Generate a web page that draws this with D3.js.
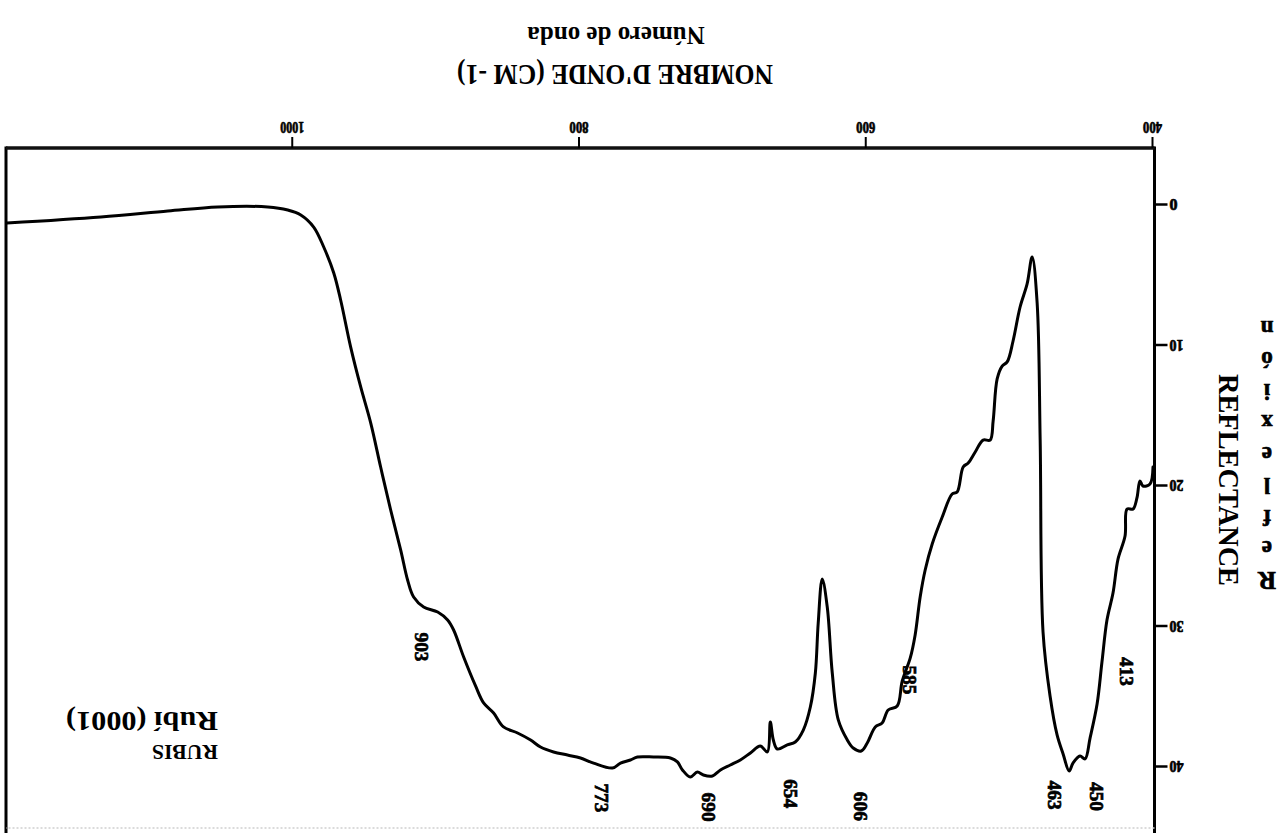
<!DOCTYPE html>
<html>
<head>
<meta charset="utf-8">
<script src="https://cdn.jsdelivr.net/npm/d3@7"></script>
<style>
  html, body { margin: 0; padding: 0; background: #fff; }
  svg { display: block; }
  text { font-family: "Liberation Serif", "Times New Roman", serif; font-weight: bold; fill: #000; }
  .heavy { stroke: #000; stroke-width: 0.7px; }
</style>
</head>
<body>
<svg id="chart" width="1286" height="833"></svg>
<script>
// Infrared reflectance spectrum of ruby, (0001) face
const wavenumber = [1199.3,1133.8,1087.1,1052.3,1017.4,1003.5,994.4,985.4,978.4,971.4,
  966.6,959.6,952.6,945.6,938.7,931.7,924.7,919.9,915.7,908.7,
  898.9,892.0,887.8,880.8,872.5,866.9,859.9,853.0,843.2,834.1,
  827.2,818.1,808.4,799.3,790.2,777.0,771.4,764.5,759.6,748.4,
  736.6,731.7,728.2,722.7,717.8,713.6,707.3,701.7,694.8,687.8,
  680.8,673.9,669.0,666.9,664.8,662.0,655.1,649.5,643.9,639.0,
  635.5,633.5,630.7,627.2,623.7,619.5,613.2,609.1,603.5,599.3,
  593.7,588.9,584.7,578.4,574.9,569.3,565.9,562.4,558.9,554.0,
  547.0,540.1,536.6,532.4,528.9,524.0,518.5,513.6,511.5,508.7,
  505.2,501.7,497.6,492.7,487.8,484.3,480.8,478.7,476.7,471.8,
  466.9,462.7,458.5,455.8,450.9,447.4,443.9,439.0,435.6,432.1,
  427.9,424.4,419.5,418.1,413.9,411.2,409.1,407.0,402.1,400.0];

const reflectance = [1.28,0.85,0.43,0.14,0.14,0.36,0.71,1.57,2.99,4.84,
  6.76,10.11,12.95,15.52,18.65,21.71,24.56,26.69,27.90,28.61,
  28.97,29.54,30.25,32.17,34.23,35.44,36.16,37.15,37.58,38.08,
  38.58,38.93,39.15,39.36,39.72,40.07,39.72,39.50,39.29,39.29,
  39.36,39.64,40.21,40.71,40.36,40.57,40.64,40.21,39.86,39.50,
  39.00,38.51,38.93,36.80,38.08,38.72,38.43,38.22,37.37,35.73,
  33.31,29.75,26.62,28.61,33.31,36.65,38.08,38.65,38.86,38.29,
  37.15,36.87,35.94,35.66,33.88,32.24,30.60,27.90,25.98,24.13,
  22.21,20.57,20.43,18.65,18.36,17.58,16.73,16.73,15.37,12.38,
  11.46,11.17,9.68,7.26,5.62,3.70,6.98,16.73,30.39,34.95,
  37.72,39.07,40.28,39.72,39.22,39.43,37.94,35.52,32.53,29.54,
  27.62,25.20,23.56,21.64,21.64,20.85,19.64,20.00,19.86,18.65];

const xTicks = [400, 600, 800, 1000];
const yTicks = [0, 10, 20, 30, 40];

// band annotations and where they sit
const peakLabels = ["903", "773", "690", "654", "606", "585", "463", "450", "413"];
const peakLabelWn = [910.1, 784.7, 710.1, 652.9, 604.2, 570.0, 468.3, 439.0, 418.1];
const peakLabelR  = [31.46, 42.2, 42.85, 41.9, 42.8, 33.8, 42.0, 42.1, 33.2];

const xTitle = ["NOMBRE D'ONDE (CM -1)", "Número de onda"];
const yTitle = "REFLECTANCE";
const yTitleEs = ["R", "e", "f", "l", "e", "x", "i", "ó", "n"];
const sampleName = ["RUBIS", "Rubí (0001)"];

const W = 1286, H = 833;
const svg = d3.select("#chart");

// the sheet is mounted upside down: lay it out normally, then turn it half a turn
const g = svg.append("g").attr("transform", `rotate(180 ${W / 2} ${H / 2})`);

const x = d3.scaleLinear().domain([400, 1200]).range([133, 1280]);
const y = d3.scaleLinear().domain([0, 40]).range([628, 66]);

const frameLeft = 131.5, frameRight = 1280, frameBottom = 685, frameTop = 5;

// frame
g.append("line").attr("x1", frameLeft).attr("x2", frameLeft).attr("y1", -2).attr("y2", frameBottom + 1.5)
  .attr("stroke", "#000").attr("stroke-width", 3);
g.append("line").attr("x1", frameRight).attr("x2", frameRight).attr("y1", -2).attr("y2", frameBottom + 1.5)
  .attr("stroke", "#000").attr("stroke-width", 3);
g.append("line").attr("x1", frameLeft).attr("x2", frameRight).attr("y1", frameBottom).attr("y2", frameBottom)
  .attr("stroke", "#111").attr("stroke-width", 3.5);
g.append("line").attr("x1", frameLeft).attr("x2", frameRight).attr("y1", frameTop).attr("y2", frameTop)
  .attr("stroke", "#cfcfcf").attr("stroke-width", 1.5).attr("stroke-dasharray", "2,2");

// wavenumber axis
const xAxis = g.append("g").attr("transform", `translate(0,${frameBottom})`)
  .call(d3.axisBottom(x).tickValues(xTicks).tickSize(11).tickPadding(4).tickFormat(d3.format("d")));
xAxis.select(".domain").remove();
xAxis.selectAll(".tick line").attr("stroke", "#000").attr("stroke-width", 2);
xAxis.selectAll(".tick text").attr("font-size", 16).attr("class", "heavy")
  .attr("textLength", d => d >= 1000 ? 24 : 19).attr("lengthAdjust", "spacingAndGlyphs")
  .attr("font-family", "Liberation Serif, serif").attr("font-weight", "bold");

// reflectance axis
const yAxis = g.append("g").attr("transform", `translate(${frameLeft},0)`)
  .call(d3.axisLeft(y).tickValues(yTicks).tickSize(13).tickPadding(2).tickFormat(d3.format("d")));
yAxis.select(".domain").remove();
yAxis.selectAll(".tick line").attr("stroke", "#000").attr("stroke-width", 2.5);
yAxis.selectAll(".tick text").attr("font-size", 16).attr("class", "heavy")
  .attr("textLength", d => d >= 10 ? 14 : 8).attr("lengthAdjust", "spacingAndGlyphs")
  .attr("font-family", "Liberation Serif, serif").attr("font-weight", "bold");

// spectrum
const pts = wavenumber.map((w, i) => [w, reflectance[i]]);
g.append("path")
  .datum(pts)
  .attr("fill", "none")
  .attr("stroke", "#000")
  .attr("stroke-width", 3)
  .attr("stroke-linejoin", "round")
  .attr("stroke-linecap", "round")
  .attr("d", d3.line().curve(d3.curveCatmullRom.alpha(0.5)).x(d => x(d[0])).y(d => y(d[1])));

// band labels, set vertically
peakLabels.forEach((t, i) => {
  g.append("text")
    .attr("class", "heavy")
    .attr("transform", `translate(${x(peakLabelWn[i])},${y(peakLabelR[i])}) rotate(-90)`)
    .attr("text-anchor", "middle")
    .attr("dy", "0.35em")
    .attr("font-size", 19)
    .attr("textLength", 29).attr("lengthAdjust", "spacingAndGlyphs")
    .text(t);
});

// axis titles
g.append("text").attr("x", 513).attr("y", 768)
  .attr("font-size", 30).attr("textLength", 316).attr("lengthAdjust", "spacingAndGlyphs")
  .text(xTitle[0]);
g.append("text").attr("x", 670).attr("y", 806).attr("text-anchor", "middle")
  .attr("font-size", 25)
  .text(xTitle[1]);

g.append("text")
  .attr("transform", `translate(67,353) rotate(-90)`)
  .attr("text-anchor", "middle")
  .attr("font-size", 30).attr("textLength", 212).attr("lengthAdjust", "spacingAndGlyphs")
  .text(yTitle);

yTitleEs.forEach((c, i) => {
  g.append("text")
    .attr("class", "heavy")
    .attr("x", 19).attr("y", 252 + i * 31.5)
    .attr("text-anchor", "middle").attr("dy", "0.35em")
    .attr("font-size", i === 0 ? 25 : 23)
    .text(c);
});

// sample name
g.append("text").attr("x", 1068).attr("y", 88).attr("font-size", 22)
  .attr("textLength", 66).attr("lengthAdjust", "spacingAndGlyphs").text(sampleName[0]);
g.append("text").attr("x", 1068).attr("y", 121).attr("font-size", 27)
  .attr("textLength", 152).attr("lengthAdjust", "spacingAndGlyphs").text(sampleName[1]);
</script>
</body>
</html>
